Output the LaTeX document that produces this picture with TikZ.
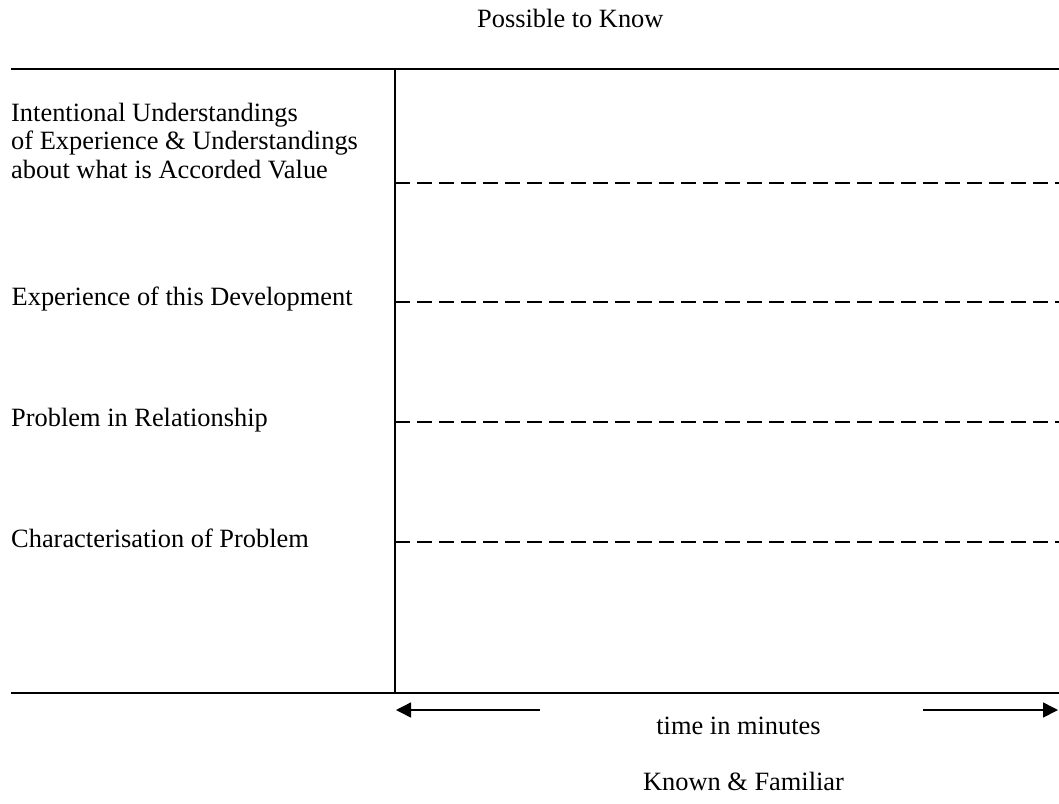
\documentclass[tikz,border=0pt]{standalone}
\usepackage{fontspec}
\setmainfont{Liberation Serif}
\usetikzlibrary{arrows.meta}
\begin{document}
\begin{tikzpicture}[x=1pt,y=-1pt,
  lbl/.style={font=\fontsize{26.4}{28.6}\selectfont, inner sep=0pt, anchor=base west, align=left},
  ctr/.style={font=\fontsize{26.4}{28.6}\selectfont, inner sep=0pt, anchor=base},
  solidline/.style={line width=2pt},
  dashline/.style={line width=2pt, dash pattern=on 15pt off 7pt},
  arr/.style={line width=1.5pt, -{Triangle[length=15pt,width=15pt]}}]
\useasboundingbox (0,0) rectangle (1059,803);
% frame coordinates
\coordinate (tl) at (11,69);
\coordinate (tr) at (1059,69);
\coordinate (vt) at (395,69);
\coordinate (vb) at (395,693);
\coordinate (bl) at (11,693);
\coordinate (br) at (1059,693);
\draw[solidline] (tl) -- (tr);
\draw[solidline] (bl) -- (br);
\draw[solidline] (vt) -- (vb);
% dashed levels
\foreach \i/\y in {1/182.7,2/302.2,3/421.7,4/541.7}{
  \coordinate (d\i a) at (395,\y);
  \coordinate (d\i b) at (1059,\y);
  \draw[dashline] (d\i a) -- (d\i b);
}
% arrows
\coordinate (la) at (540,710);
\coordinate (lb) at (396,710);
\coordinate (ra) at (923,710);
\coordinate (rb) at (1058,710);
\draw[arr] (la) -- (lb);
\draw[arr] (ra) -- (rb);
% texts
\node[lbl] (top) at (477,27.7) {Possible to Know};
\node[lbl] (l1) at (11,178.5) {Intentional Understandings\\of Experience \& Understandings\\about what is Accorded Value};
\node[lbl] (l2) at (11.5,305.5) {Experience of this Development};
\node[lbl] (l3) at (11,426.5) {Problem in Relationship};
\node[lbl] (l4) at (11,547.5) {Characterisation of Problem};
\node[ctr] (time) at (738.5,734.3) {time in minutes};
\node[ctr] (known) at (743.5,790) {Known \& Familiar};
\end{tikzpicture}
\end{document}
